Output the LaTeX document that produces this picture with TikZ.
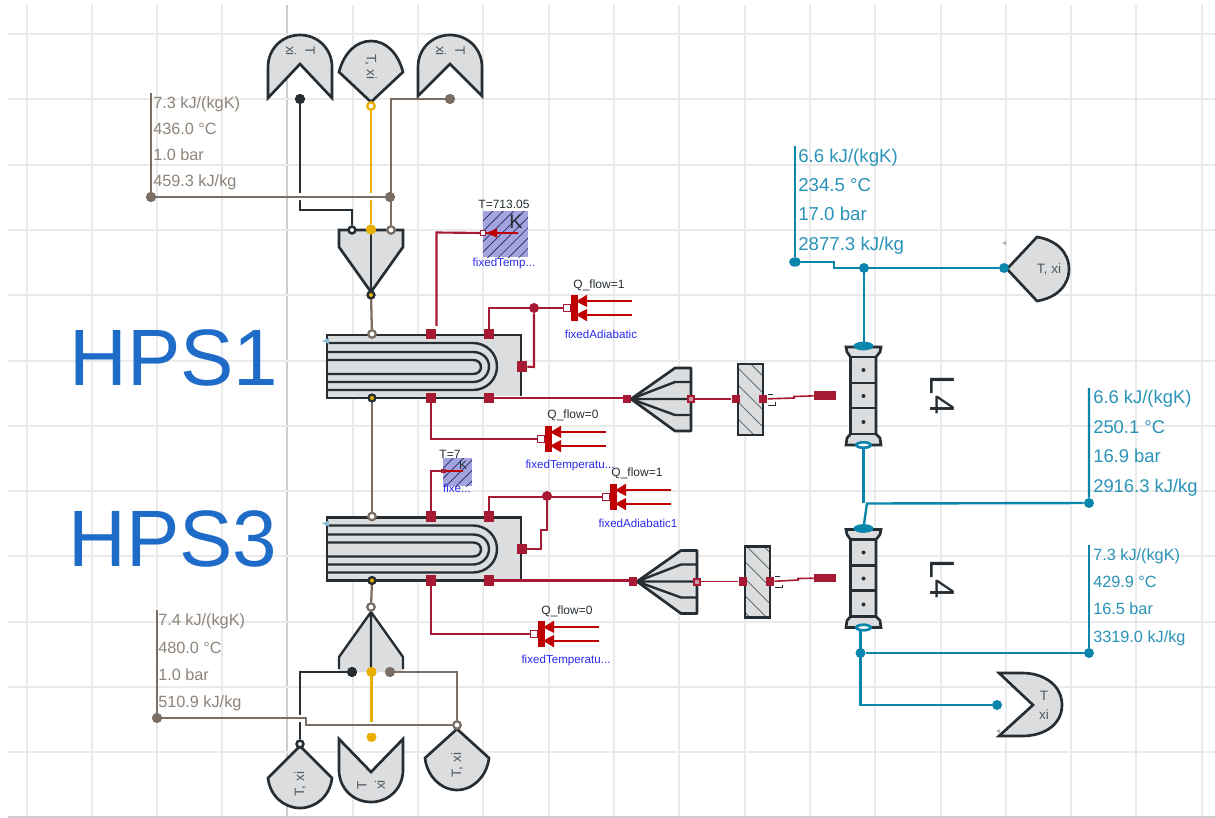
\documentclass[tikz,border=0pt]{standalone}
\usepackage{fontspec}
\setmainfont{Liberation Sans}
\usetikzlibrary{patterns.meta,shapes.geometric}
\definecolor{gridc}{HTML}{EAEAEA}
\definecolor{gridd}{HTML}{CCCCCC}
\definecolor{shapef}{HTML}{DCDDDF}
\definecolor{ink}{HTML}{262E33}
\definecolor{brownl}{HTML}{7A6E64}
\definecolor{brownt}{HTML}{8E847A}
\definecolor{yell}{HTML}{E8AE00}
\definecolor{hxred}{HTML}{A61A33}
\definecolor{hfred}{HTML}{C00000}
\definecolor{teal1}{HTML}{0A86AC}
\definecolor{tealt}{HTML}{2A93B8}
\definecolor{hps}{HTML}{1F6CC8}
\definecolor{bluet}{HTML}{2A2AEE}
\definecolor{hatchf}{HTML}{A3A3E0}
\tikzset{
  body/.style={draw=ink,fill=shapef,line width=2pt,line join=miter},
  tube/.style={draw=ink,line width=1.8pt},
  conred/.style={draw=hxred,line width=1.6pt},
  condark/.style={draw=ink,line width=1.6pt},
  conyel/.style={draw=yell,line width=1.7pt},
  conbrown/.style={draw=brownl,line width=1.7pt},
  conteal/.style={draw=teal1,line width=1.8pt},
  redsq/.style={rectangle,fill=hxred,inner sep=0pt,minimum size=7.6pt},
  reddot/.style={circle,fill=hxred,inner sep=0pt,minimum size=7.5pt},
  inkdot/.style={circle,fill=ink,inner sep=0pt,minimum size=7.5pt},
  browndot/.style={circle,fill=brownl,inner sep=0pt,minimum size=7.5pt},
  yeldot/.style={circle,fill=yell,inner sep=0pt,minimum size=7.5pt},
  tealdot/.style={circle,fill=teal1,inner sep=0pt,minimum size=7.5pt},
  ringw/.style={circle,draw=brownl,fill=white,line width=1.6pt,inner sep=0pt,minimum size=5.5pt},
  ringk/.style={circle,draw=ink,fill=white,line width=1.8pt,inner sep=0pt,minimum size=5pt},
  ringy/.style={circle,draw=ink,fill=yell,line width=1.7pt,inner sep=0pt,minimum size=5pt},
  ringoy/.style={circle,draw=yell,fill=white,line width=1.6pt,inner sep=0pt,minimum size=5.5pt},
  tealoval/.style={ellipse,draw=teal1,fill=white,line width=1.9pt,inner sep=0pt,minimum width=10.5pt,minimum height=4pt},
  senst/.style={inner sep=0pt,text=ink!80!white,font=\fontsize{10.2pt}{12pt}\selectfont},
  smallk/.style={inner sep=0pt,text=ink,font=\fontsize{9pt}{10pt}\selectfont},
  smallb/.style={inner sep=0pt,text=bluet,font=\fontsize{8.7pt}{10pt}\selectfont},
  brownlab/.style={inner sep=0pt,anchor=base west,text=brownt,font=\fontsize{12.2pt}{14pt}\selectfont},
  teallab/.style={inner sep=0pt,anchor=base west,text=tealt,font=\fontsize{14pt}{16pt}\selectfont},
  teallabm/.style={inner sep=0pt,anchor=base west,text=tealt,font=\fontsize{13.8pt}{16pt}\selectfont},
  teallabs/.style={inner sep=0pt,anchor=base west,text=tealt,font=\fontsize{12.2pt}{14pt}\selectfont},
  biglab/.style={inner sep=0pt,anchor=base west,text=hps,font=\fontsize{60pt}{62pt}\selectfont},
  lfour/.style={inner sep=0pt,rotate=-90,text=ink,font=\fontsize{26pt}{28pt}\selectfont},
}
% heat flow source: #1 name, #2 x, #3 y
\newcommand{\heatflowicon}[3]{
  \begin{scope}[shift={(#2,#3)}]
    \fill[hfred] (3.7,-13.3) rectangle (11,13.3);
    \fill[hfred] (9,-6.7) -- (20,-13.3) -- (20,-1) -- cycle;
    \fill[hfred] (9,6.7) -- (20,1) -- (20,13.3) -- cycle;
    \fill[white] (12,-4.5) -- (19,0) -- (12,4.5) -- cycle;
    \draw[hfred,line width=1.5pt] (18,-6.7) -- (65,-6.7) (18,6.7) -- (65,6.7);
    \node[rectangle,draw=hxred,fill=white,line width=.8pt,inner sep=0pt,minimum size=5pt] (#1) at (0,0) {};
  \end{scope}
}
% heat exchanger: #1 prefix, #2 vertical offset
\newcommand{\hxicon}[2]{
  \begin{scope}[shift={(0,#2)}]
    \path[fill=shapef] (327,335) rectangle (521,398);
    \draw[tube] (327,343) -- (473,343) .. controls (486,343) and (497,353) .. (497,366.5) .. controls (497,380) and (486,390) .. (473,390) -- (327,390);
    \draw[tube] (327,352) -- (473,352) .. controls (482,352) and (489,358) .. (489,366.5) .. controls (489,375) and (482,382) .. (473,382) -- (327,382);
    \draw[tube] (327,360) -- (473,360) .. controls (478,360) and (481,363) .. (481,367) .. controls (481,371) and (478,374) .. (473,374) -- (327,374);
    \draw[ink,line width=2pt] (521,396) -- (521,335) -- (327,335) -- (327,398) -- (521,398);
    \fill[cyan!50!gray!70] (322,341) -- (329,338) -- (329,344) -- cycle;
    \draw[white,line width=3pt] (489,398) -- (524,398);
    \node[ringw] (#1a) at (372,334) {};
    \node[redsq] (#1b) at (431,334) {};
    \node[redsq] (#1c) at (489,334) {};
    \node[redsq] (#1d) at (522,366.5) {};
    \node[ringy] (#1e) at (372,398) {};
    \node[redsq] (#1f) at (431,398) {};
    \node[redsq] (#1g) at (489,398) {};
  \end{scope}
}
% fan / nozzle, wall, load: #1 prefix, #2 x shift of fan, #3 y shift, #4 x shift of wall
\newcommand{\fanicon}[4]{
  \begin{scope}[shift={(#2,#3)}]
    \draw[body,line join=round] (631,399) -- (675,368) -- (691,368) -- (691,431) -- (675,431) -- cycle;
    \draw[tube] (631,399) -- (675,382) -- (691,382) (631,399) -- (691,399) (631,399) -- (675,415) -- (691,415);
    \node[redsq,minimum size=6.4pt] (#1tip) at (627,399) {};
    \node[rectangle,draw=hxred,fill=hxred!35!shapef,line width=1.5pt,inner sep=0pt,minimum size=4.5pt] (#1out) at (691,399) {};
  \end{scope}
  \begin{scope}[shift={(#4,#3)}]
    \draw[body] (738,364) rectangle (763,435);
    \fill[pattern={Lines[angle=-45,distance=9pt,line width=.7pt]},pattern color=ink!70!white] (739,365) rectangle (762,434);
    \draw[ink,line width=2pt] (738,364) rectangle (763,435);
    \node[redsq,minimum size=6.4pt] (#1wa) at (736,399) {};
    \node[redsq,minimum size=6.4pt] (#1wb) at (763,399) {};
    \draw[ink,line width=.7pt] (768,394) -- (773,394) (768,405) -- (775,405) -- (775,402);
  \end{scope}
}
% column: #1 prefix, #2 y shift
\newcommand{\columnicon}[2]{
  \begin{scope}[shift={(0,#2)}]
    \draw[body] (846,347) -- (881,347) -- (880,352) -- (876,357) -- (876,434) -- (880,438) -- (881,445) -- (846,445) -- (847,438) -- (850.5,434) -- (850.5,357) -- (847,352) -- cycle;
    \draw[ink,line width=2.2pt] (850.5,357) -- (876,357) (850.5,383) -- (876,383) (850.5,408) -- (876,408) (850.5,434) -- (876,434);
    \fill[ink] (863.5,370) circle (1.5pt) (863.5,396) circle (1.5pt) (863.5,422) circle (1.5pt);
    \node[ellipse,fill=teal1,inner sep=0pt,minimum width=15pt,minimum height=6.6pt] (#1top) at (863.5,346) {};
    \node[tealoval] (#1bot) at (863.5,445) {};
  \end{scope}
}
\begin{document}
\begin{tikzpicture}[x=0.75pt,y=-0.75pt]
\useasboundingbox (0,0) rectangle (1215,818);
\fill[white] (0,0) rectangle (1215,818);
% grid
\foreach \gx in {27,92,157,222,353,418,483,549,614,679,745,810,875,941,1006,1071,1136,1202}
  \draw[gridc,line width=.8pt] (\gx,5) -- (\gx,817);
\draw[gridd,line width=.8pt] (287,5) -- (287,817);
\foreach \gy in {34,99,165,230,295,361,426,491,556,622,687,752}
  \draw[gridc,line width=.8pt] (8,\gy) -- (1215,\gy);
\draw[gridd,line width=.8pt] (8,817) -- (1215,817);

% big labels
\node[biglab] (t1) at (69,385) {HPS1};
\node[biglab] (t3) at (68,566) {HPS3};

% top sensors
\path[body] (268,98) -- (268,67) .. controls (268,49) and (282,35) .. (300,35) .. controls (318,35) and (332,49) .. (332,67) -- (332,98) -- (300,64) -- cycle;
\node[senst,rotate=-90] (s1t) at (310,51) {T};
\node[senst,rotate=-90] (s1x) at (291,51) {xi};
\path[body] (339,72) .. controls (344,53) and (356,41) .. (371,41) .. controls (386,41) and (398,53) .. (403,72) -- (371,102) -- cycle;
\node[senst,rotate=-90] (s2t) at (371,67) {T, xi};
\path[body] (418,96) -- (418,67) .. controls (418,49) and (432,35) .. (450,35) .. controls (468,35) and (482,49) .. (482,67) -- (482,96) -- (450,64) -- cycle;
\node[senst,rotate=-90] (s3t) at (460,51) {T};
\node[senst,rotate=-90] (s3x) at (441,51) {xi};

% top mixer
\path[body] (339,230) -- (403,230) -- (403,247) -- (371,292) -- (339,247) -- cycle;
\draw[tube] (371,230) -- (371,292);

% bottom mixer
\path[fill=shapef] (339,672) -- (339,657) -- (371,612) -- (403,657) -- (403,672) -- cycle;
\draw[tube] (339,669) -- (339,657) -- (371,612) -- (403,657) -- (403,669) (371,612) -- (371,672);

% heat exchangers
\hxicon{hxa}{0}
\hxicon{hxb}{182.5}

% ports of top block
\node[inkdot] (p1) at (300,99) {};
\node[ringoy] (p2) at (371,106) {};
\node[browndot] (p3) at (450,99) {};
\node[ringk] (m1) at (352,230) {};
\node[yeldot] (m2) at (371,229.5) {};
\node[ringw] (m3) at (391,230) {};
\node[ringy] (m4) at (371,295) {};
\node[browndot] (j1) at (390,197) {};
\node[browndot] (j2) at (151,197) {};
\coordinate (j2t) at (151,93);
\coordinate (c1a) at (300,210);
\coordinate (c1b) at (352,210);
\coordinate (c3a) at (391,99);

\draw[condark] (p1) -- (c1a) -- (c1b) -- (m1);
\draw[conyel] (p2) -- (m2);
\draw[conbrown] (p3) -- (c3a) -- (m3);
\fill[white] (298,193) rectangle (303,200) (368.5,193) rectangle (374,200);
\draw[conbrown] (j2t) -- (j2) -- (j1);
\node[browndot] (j1r) at (j1) {};
\node[ringk] (m1r) at (m1) {};
\node[yeldot] (m2r) at (m2) {};
\node[ringw] (m3r) at (m3) {};
\node[ringoy] (p2r) at (p2) {};
\node[inkdot] (p1r) at (p1) {};
\node[browndot] (p3r) at (p3) {};
\node[browndot] (j2r) at (j2) {};

\node[brownlab] (l1a) at (153,108) {7.3 kJ/(kgK)};
\node[brownlab] (l1b) at (153,134) {436.0 °C};
\node[brownlab] (l1c) at (153,160) {1.0 bar};
\node[brownlab] (l1d) at (153,186) {459.3 kJ/kg};

% vertical links between blocks
\draw[conbrown] (m4) -- (hxaa);
\draw[conbrown] (hxae) -- (hxba);
\node[ringy] (m4r) at (m4) {};
\node[ringw] (hxaar) at (hxaa) {};
\node[ringy] (hxaer) at (hxae) {};
\node[ringw] (hxbar) at (hxba) {};

% fixed temperature top
\node[rectangle,fill=hatchf,inner sep=0pt,minimum width=34pt,minimum height=34.5pt] (ft1) at (505.5,234) {};
\fill[pattern={Lines[angle=45,distance=5.5pt,line width=.5pt]},pattern color=ink!80!blue] (483,211) rectangle (528,257);
\node[inner sep=0pt,text=ink,font=\fontsize{15pt}{16pt}\selectfont] (ft1k) at (516,222) {K};
\coordinate (ft1e) at (518,233);
\coordinate (cf1a) at (436.5,232.5);
\coordinate (cf1b) at (436.5,326);
\node[rectangle,draw=hxred,fill=white,line width=.7pt,inner sep=0pt,minimum size=3.5pt] (ft1p) at (483,233) {};
\draw[conred] (ft1p) -- (cf1a) -- (cf1b);
\draw[hfred,line width=1.5pt] (ft1e) -- (ft1p);
\fill[hfred] (486,233) -- (497,228.5) -- (497,237.5) -- cycle;
\node[smallk] (ft1t) at (504,204.5) {T=713.05};
\node[smallb] (ft1n) at (504,263) {fixedTemp...};

% adiabatic top
\heatflowicon{ha}{567}{308}
\node[reddot] (ja) at (534,308) {};
\coordinate (ca1) at (489,308);
\coordinate (ca2) at (534,367);
\draw[conred] (hxac) -- (ca1) -- (ha);
\draw[conred] (ja) -- (ca2) -- (hxad);
\node[smallk] (hat) at (599,285) {Q\_flow=1};
\node[smallb] (han) at (601,334) {fixedAdiabatic};

% fixed temperature mid
\heatflowicon{hb}{541}{439}
\coordinate (cb1) at (431,439);
\draw[conred] (hxaf) -- (cb1) -- (hb);
\node[smallk] (hbt) at (573,415) {Q\_flow=0};
\node[smallb] (hbn) at (570,465) {fixedTemperatu...};

% small fixed temperature
\node[rectangle,fill=hatchf,inner sep=0pt,minimum width=21.5pt,minimum height=21pt] (ft2) at (457.5,472) {};
\fill[pattern={Lines[angle=45,distance=5.5pt,line width=.5pt]},pattern color=ink!80!blue] (443,458) rectangle (472,486);
\node[inner sep=0pt,text=ink,font=\fontsize{9pt}{10pt}\selectfont] (ft2k) at (463,465) {K};
\node[smallk] (ft2t) at (450,454) {T=7};
\node[smallb] (ft2n) at (457,488.5) {fixe...};
\node[rectangle,draw=hxred,fill=hxred,line width=.6pt,inner sep=0pt,minimum size=2.5pt] (ft2p) at (443.5,471) {};
\coordinate (ft2e) at (463,471);
\coordinate (cf2a) at (431,471);
\draw[conred] (hxbb) -- (cf2a) -- (ft2p);
\draw[hfred,line width=1.4pt] (ft2p) -- (ft2e);

% adiabatic lower
\heatflowicon{hc}{606}{497}
\node[reddot] (jb) at (547,496) {};
\coordinate (cc1) at (489,497);
\coordinate (cc2) at (547,530);
\coordinate (cc3) at (541,530);
\coordinate (cc4) at (541,549);
\draw[conred] (hxbc) -- (cc1) -- (hc);
\draw[conred] (jb) -- (cc2) -- (cc3) -- (cc4) -- (hxbd);
\node[smallk] (hct) at (637,473) {Q\_flow=1};
\node[smallb] (hcn) at (638,523) {fixedAdiabatic1};

% fixed temperature low
\heatflowicon{hd}{534}{634}
\coordinate (cd1) at (431,634);
\draw[conred] (hxbf) -- (cd1) -- (hd);
\node[smallk] (hdt) at (567,611) {Q\_flow=0};
\node[smallb] (hdn) at (566,660) {fixedTemperatu...};

% fans, walls
\fanicon{fa}{0}{0}{0}
\fanicon{fb}{6}{182.5}{7}
\draw[conred] (hxag) -- (hxag -| fatip);
\draw[conred] (hxbg) -- (hxbg -| fbtip);
\draw[conred,line width=1.2pt] (faout) -- (fawa);
\draw[conred,line width=1.2pt] (fbout) -- (fbwa);
\node[rectangle,fill=hxred,inner sep=0pt,minimum width=16.5pt,minimum height=6.8pt] (loa) at (825,395.5) {};
\coordinate (ga) at (794,398);
\coordinate (gb) at (794,396.5);
\draw[conred,line width=1.2pt] (fawb) -- (ga) -- (gb) -- (loa);
\node[rectangle,fill=hxred,inner sep=0pt,minimum width=16.5pt,minimum height=6.4pt] (lob) at (825,578) {};
\coordinate (gc) at (798,580);
\coordinate (gd) at (798,578.5);
\draw[conred,line width=1.2pt] (fbwb) -- (gc) -- (gd) -- (lob);

% columns
\columnicon{ca}{0}
\columnicon{cb}{182.5}
\node[lfour] (l4a) at (942,395) {L4};
\node[lfour] (l4b) at (942,579) {L4};

% right-hand sensor top
\path[body] (1007,269) -- (1037,237) .. controls (1056,240) and (1069,252) .. (1069,269) .. controls (1069,286) and (1056,298) .. (1037,301) -- cycle;
\node[senst] (s4t) at (1049,269) {T, xi};
\fill[gray!60] (1002,243) -- (1006,241) -- (1006,245) -- cycle;
\node[tealdot] (sa) at (1004,268) {};
\node[tealdot,minimum width=9pt,minimum height=7pt,ellipse] (ja1) at (795,262) {};
\node[tealdot] (ja2) at (864,268) {};
\coordinate (ja1t) at (795,146);
\coordinate (q1) at (834,262);
\coordinate (q2) at (834,268);
\draw[conteal] (ja1t) -- (ja1) -- (q1) -- (q2) -- (sa);
\draw[conteal] (ja2) -- (ja2 |- catop);
\node[teallab] (r1a) at (798,162) {6.6 kJ/(kgK)};
\node[teallab] (r1b) at (798,191) {234.5 °C};
\node[teallab] (r1c) at (798,220) {17.0 bar};
\node[teallab] (r1d) at (798,250) {2877.3 kJ/kg};

% link between columns
\coordinate (q3) at (863.5,503);
\coordinate (q4) at (867,503.5);
\coordinate (q5) at (865,517);
\node[tealdot] (jc) at (1089,503) {};
\coordinate (jct) at (1089,388);
\draw[conteal] (cabot) -- (q3);
\draw[conteal] (cbtop) -- (q5) -- (q4) -- (jc) -- (jct);
\node[teallabm] (r2a) at (1093,403) {6.6 kJ/(kgK)};
\node[teallabm] (r2b) at (1093,433) {250.1 °C};
\node[teallabm] (r2c) at (1093,462) {16.9 bar};
\node[teallabm] (r2d) at (1093,492) {2916.3 kJ/kg};
\node[tealoval] (cabotr) at (cabot) {};

% lower-right sensor
\path[body] (999,673) -- (1022,673) .. controls (1045,673) and (1062,686) .. (1062,705) .. controls (1062,724) and (1045,736) .. (1022,736) -- (999,736) -- (1033,705) -- cycle;
\node[senst] (s5t) at (1044,696) {T};
\node[senst] (s5x) at (1044,715) {xi};
\fill[gray!60] (996,731) -- (1000,729) -- (1000,733) -- cycle;
\node[tealdot] (sb) at (997,705) {};
\node[tealdot] (jd) at (860.5,653) {};
\node[tealdot] (je) at (1089,653) {};
\coordinate (jet) at (1089,545);
\coordinate (q6) at (860.5,705);
\coordinate (q7) at (860.5,627.5);
\draw[conteal] (q7) -- (q6) -- (sb);
\draw[conteal] (jd) -- (je) -- (jet);
\node[tealoval] (cbbotr) at (cbbot) {};
\node[teallabs] (r3a) at (1093,560) {7.3 kJ/(kgK)};
\node[teallabs] (r3b) at (1093,587) {429.9 °C};
\node[teallabs] (r3c) at (1093,614) {16.5 bar};
\node[teallabs] (r3d) at (1093,642) {3319.0 kJ/kg};

% bottom sensors
\path[body] (300,746) -- (332,778) .. controls (330,796) and (316,808) .. (300,808) .. controls (284,808) and (270,796) .. (268,778) -- cycle;
\node[senst,rotate=90] (s6t) at (300,784) {T, xi};
\path[body] (339,739) -- (371,772) -- (403,739) -- (403,770) .. controls (403,788) and (389,802) .. (371,802) .. controls (353,802) and (339,788) .. (339,770) -- cycle;
\node[senst,rotate=90] (s7t) at (362,785) {T};
\node[senst,rotate=90] (s7x) at (380,785) {xi};
\path[body] (457,729) -- (489,758) .. controls (487,776) and (473,790) .. (457,790) .. controls (441,790) and (427,776) .. (425,758) -- cycle;
\node[senst,rotate=90] (s8t) at (457,765) {T, xi};

% bottom ports and lines
\node[ringw] (n0) at (371,607) {};
\node[inkdot] (n1) at (352,672) {};
\node[yeldot] (n2) at (371.5,672) {};
\node[browndot] (n3) at (390,672) {};
\node[ringk] (n4) at (300,744) {};
\node[yeldot] (n5) at (371.5,737) {};
\node[ringw] (n6) at (457,725) {};
\node[browndot] (n7) at (157,718) {};
\coordinate (n7t) at (157,610);
\coordinate (b1) at (300,672);
\coordinate (b2) at (457,672);
\coordinate (b3) at (306,718);
\coordinate (b4) at (306,725);
\draw[conbrown] (hxbe) -- (n0);
\node[ringy] (hxber) at (hxbe) {};
\node[ringw] (n0r) at (n0) {};
\draw[condark] (n1) -- (b1) -- (n4);
\draw[conyel] (n2) -- (n5);
\draw[conbrown] (n3) -- (b2) -- (n6);
\fill[white] (298,715) rectangle (303,722) (369,722) rectangle (375,733);
\draw[conbrown] (n7t) -- (n7) -- (b3) -- (b4) -- (n6);
\node[inkdot] (n1r) at (n1) {};
\node[yeldot] (n2r) at (n2) {};
\node[browndot] (n3r) at (n3) {};
\node[ringk] (n4r) at (n4) {};
\node[ringw] (n6r) at (n6) {};
\node[browndot] (n7r) at (n7) {};
\node[brownlab] (l2a) at (158,625) {7.4 kJ/(kgK)};
\node[brownlab] (l2b) at (158,653) {480.0 °C};
\node[brownlab] (l2c) at (158,680) {1.0 bar};
\node[brownlab] (l2d) at (158,707) {510.9 kJ/kg};
\end{tikzpicture}
\end{document}
